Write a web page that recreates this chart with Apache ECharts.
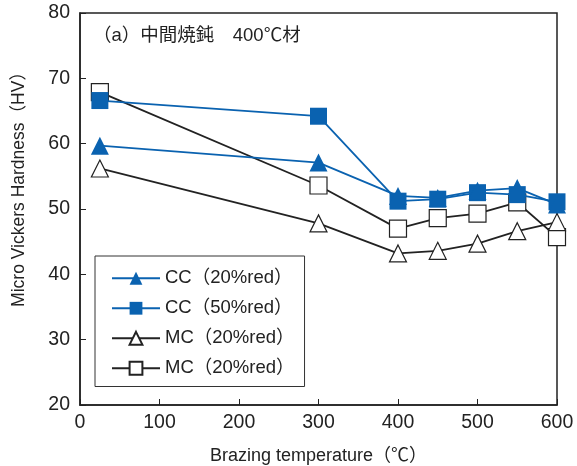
<!DOCTYPE html>
<html><head><meta charset="utf-8">
<script src="https://cdn.jsdelivr.net/npm/echarts@6/dist/echarts.min.js"></script>
<style>html,body{margin:0;padding:0;background:#fff}#c{width:577px;height:466px}</style>
</head><body><div id="c"></div>
<script>
const temps = [25, 300, 400, 450, 500, 550, 600];
const cc20 = [59.7, 57.1, 52.0, 51.7, 52.8, 53.2, 50.7];
const cc50 = [66.6, 64.2, 51.2, 51.5, 52.5, 52.2, 51.1];
const mc20tri = [56.2, 47.8, 43.2, 43.6, 44.7, 46.6, 48.0];
const mc20sq = [67.9, 53.6, 47.0, 48.6, 49.3, 51.0, 45.7];
const seriesNames = ['CC（20%red）', 'CC（50%red）', 'MC（20%red）', 'MC（20%red）\u200b'];
const xTicks = [0, 100, 200, 300, 400, 500, 600];
const yTicks = [20, 30, 40, 50, 60, 70, 80];

const FONT = "'Liberation Sans', 'Noto Sans CJK JP', sans-serif";
const BLUE = '#0a62b0';
const INK = '#222';
const pair = arr => temps.map((t, i) => [t, arr[i]]);

const chart = echarts.init(document.getElementById('c'), null, {renderer: 'canvas'});
chart.setOption({
  animation: false,
  backgroundColor: '#fff',
  textStyle: {fontFamily: FONT},
  title: {
    text: '（a）中間焼鈍　400℃材',
    left: 88, top: 22,
    textStyle: {fontFamily: FONT, fontSize: 18.5, fontWeight: 'normal', color: INK}
  },
  grid: {left: 80, right: 20, top: 13, bottom: 61, outerBoundsMode: 'none', containLabel: false,
         show: true, borderColor: INK, borderWidth: 1.5, backgroundColor: 'transparent'},
  legend: {
    orient: 'vertical', left: 95, top: 256,
    padding: [13, 10, 9, 16],
    itemGap: 11.5, itemWidth: 48, itemHeight: 16,
    borderColor: '#333', borderWidth: 1, backgroundColor: '#fff',
    data: seriesNames,
    textStyle: {fontFamily: FONT, fontSize: 18.5, lineHeight: 18, color: INK}
  },
  xAxis: {
    type: 'value', min: 0, max: 600, interval: 100,
    name: 'Brazing temperature（℃）', nameLocation: 'middle', nameGap: 42,
    nameTextStyle: {fontFamily: FONT, fontSize: 18, color: INK},
    axisLine: {show: true, lineStyle: {color: INK, width: 1.5}},
    axisTick: {show: true, inside: true, length: 6, lineStyle: {color: INK}},
    axisLabel: {fontFamily: FONT, fontSize: 19.5, color: INK, margin: 8, formatter: v => xTicks.includes(v) ? String(v) : ''},
    splitLine: {show: false}
  },
  yAxis: {
    type: 'value', min: 20, max: 80, interval: 10,
    name: 'Micro Vickers Hardness（HV）', nameLocation: 'middle', nameGap: 52,
    nameTextStyle: {fontFamily: FONT, fontSize: 17.5, color: INK, padding: [0, 0, 0, 48]},
    axisLine: {show: true, lineStyle: {color: INK, width: 1.5}},
    axisTick: {show: true, inside: true, length: 6, lineStyle: {color: INK}},
    axisLabel: {fontFamily: FONT, fontSize: 19.5, color: INK, margin: 10, formatter: v => yTicks.includes(v) ? String(v) : ''},
    splitLine: {show: false}
  },
  series: [
    {name: seriesNames[3], type: 'line', data: pair(mc20sq), symbol: 'rect', symbolSize: 17,
     lineStyle: {color: INK, width: 1.8}, itemStyle: {color: '#fff', borderColor: INK, borderWidth: 1.2}, z: 2},
    {name: seriesNames[2], type: 'line', data: pair(mc20tri), symbol: 'triangle', symbolSize: 17,
     lineStyle: {color: INK, width: 1.8}, itemStyle: {color: '#fff', borderColor: INK, borderWidth: 1.2}, z: 2},
    {name: seriesNames[1], type: 'line', data: pair(cc50), symbol: 'rect', symbolSize: 17,
     lineStyle: {color: BLUE, width: 1.8}, itemStyle: {color: BLUE, borderColor: BLUE, borderWidth: 0}, z: 3},
    {name: seriesNames[0], type: 'line', data: pair(cc20), symbol: 'triangle', symbolSize: 18,
     lineStyle: {color: BLUE, width: 1.8}, itemStyle: {color: BLUE, borderColor: BLUE, borderWidth: 0}, z: 3}
  ]
});
</script>
</body></html>
